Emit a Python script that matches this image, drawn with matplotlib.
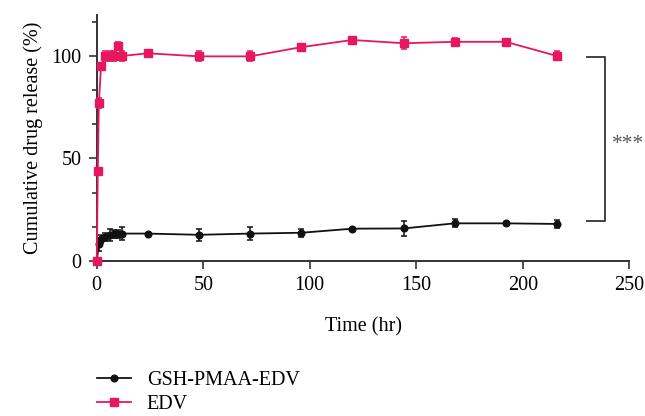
import matplotlib
matplotlib.use("Agg")
import matplotlib.pyplot as plt
from matplotlib.lines import Line2D
from matplotlib.ticker import MultipleLocator

plt.rcParams["font.family"] = ["Liberation Serif", "DejaVu Serif"]

GSH_T = [0, 1, 2, 4, 6, 8, 10, 12, 24, 48, 72, 96, 120, 144, 168, 192, 216]
GSH_Y = [0, 8, 10.5, 11.5, 12.5, 13, 13.2, 13.3, 13.3, 12.7, 13.3, 13.7,
         15.7, 15.8, 18.3, 18.3, 18]
GSH_ERR = [0, 3, 2, 2, 3, 2, 2, 3, 0.5, 3, 3, 2, 0.5, 3.5, 2, 0.5, 2]

EDV_T = [0, 0.5, 1, 2, 4, 6, 8, 10, 12, 24, 48, 72, 96, 120, 144, 168, 192, 216]
EDV_Y = [0, 44, 77, 95, 100, 100, 100, 105, 100, 101.3, 99.8, 99.8, 104.3,
         107.8, 106.2, 106.9, 106.9, 100]
EDV_ERR = [0, 0, 2.5, 1.5, 2.5, 2.5, 2.5, 2, 2.5, 0.8, 2.5, 2.5, 1.6, 0.8,
           3, 1.8, 0.8, 2.2]

SERIES_LABELS = ["GSH-PMAA-EDV", "EDV"]
BRACKET_Y = [19.5, 99.5]
SIG_TEXT = "***"

BLACK = "#111111"
PINK = "#e8175d"
AXIS = "#333333"
FS = 14.5

fig = plt.figure(figsize=(6.45, 4.16), dpi=100)
ax = fig.add_axes([0.15, 0.373, 0.8257, 0.591])

ax.errorbar(GSH_T, GSH_Y, yerr=GSH_ERR, color=BLACK, marker="o",
            markersize=4.8, lw=1.3, capsize=2.5, elinewidth=1.1,
            capthick=1.1, clip_on=False, zorder=3)
ax.errorbar(EDV_T, EDV_Y, yerr=EDV_ERR, color=PINK, marker="s",
            markersize=5.3, lw=1.3, capsize=2.5, elinewidth=1.1,
            capthick=1.1, clip_on=False, zorder=4)

ax.set_xlim(0, 250)
ax.set_ylim(0, 120)
ax.xaxis.set_major_locator(MultipleLocator(50))
ax.yaxis.set_major_locator(MultipleLocator(50))
ax.yaxis.set_minor_locator(MultipleLocator(50 / 3))

for side in ("top", "right"):
    ax.spines[side].set_visible(False)
for side in ("left", "bottom"):
    ax.spines[side].set_color(AXIS)
    ax.spines[side].set_linewidth(1.4)
ax.tick_params(which="major", length=6, width=1.2, color=AXIS,
               labelsize=FS, pad=5)
ax.tick_params(which="minor", length=3.5, width=1.2, color=AXIS)

ax.set_xlabel("Time (hr)", fontsize=FS, labelpad=16)
ax.set_ylabel("Cumulative drug release (%)", fontsize=FS, labelpad=6)

# significance bracket
bx0, bx1 = 230.3, 238.4
ax.plot([bx0, bx1, bx1, bx0], [BRACKET_Y[1], BRACKET_Y[1], BRACKET_Y[0], BRACKET_Y[0]],
        color=AXIS, lw=1.3, clip_on=False)
ax.text(242, sum(BRACKET_Y) / 2 - 2.5, SIG_TEXT, color="#555555", fontsize=FS + 1,
        ha="left", va="center", clip_on=False)

handles = [
    Line2D([], [], color=BLACK, marker="o", markersize=4.8, lw=1.3),
    Line2D([], [], color=PINK, marker="s", markersize=5.3, lw=1.3),
]
fig.legend(handles, SERIES_LABELS, loc="upper left",
           bbox_to_anchor=(0.151, 0.108), frameon=False, fontsize=FS,
           handlelength=1.65, handletextpad=0.8, labelspacing=0.25,
           borderaxespad=0, borderpad=0)

fig.savefig("out.png", dpi=100)
